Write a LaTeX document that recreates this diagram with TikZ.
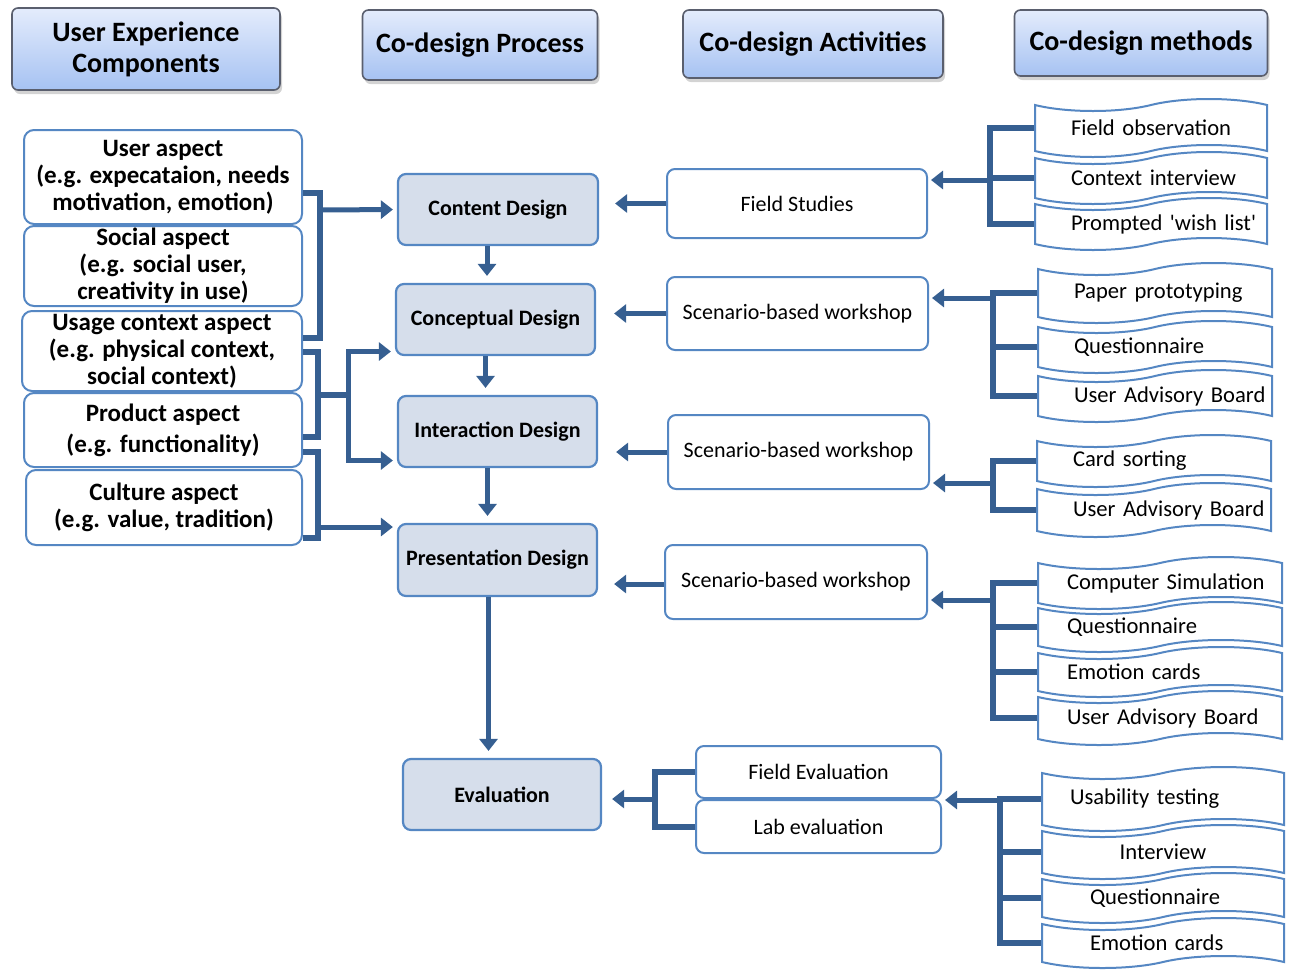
\documentclass[tikz,border=0pt]{standalone}
\usepackage{fontspec}
\setmainfont{Carlito}
\usetikzlibrary{arrows.meta}
\usetikzlibrary{shapes.symbols}
\usetikzlibrary{shadows}

\definecolor{linkblue}{RGB}{54,95,145}
\definecolor{boxblue}{RGB}{85,135,195}
\definecolor{phasefill}{RGB}{214,222,235}
\definecolor{hdrtop}{RGB}{228,236,252}
\definecolor{hdrbot}{RGB}{166,194,242}
\definecolor{hdrline}{RGB}{90,95,110}

\tikzset{
  hdr/.style={draw=hdrline, line width=0.8pt, rounded corners=3pt, top color=hdrtop, bottom color=hdrbot,
    drop shadow={shadow xshift=1pt,shadow yshift=-2pt,opacity=0.35},
    font=\fontsize{14}{15.5}\selectfont\bfseries, align=center, inner sep=0pt},
  aspectbox/.style={draw=boxblue, line width=1pt, rounded corners=5pt, fill=white,
    font=\fontsize{12.5}{13.5}\selectfont\bfseries, align=center, inner sep=0pt},
  phasebox/.style={draw=boxblue, line width=1.1pt, rounded corners=4pt, fill=phasefill,
    font=\fontsize{11}{13}\selectfont\bfseries, inner sep=0pt},
  actbox/.style={draw=boxblue, line width=1pt, rounded corners=4pt, fill=white,
    font=\fontsize{11}{13}\selectfont, inner sep=0pt},
  methbox/.style={tape, draw=boxblue, line width=1pt, fill=white, tape bend height=6pt,
    font=\fontsize{11.3}{13}\selectfont, inner ysep=0pt, inner xsep=#1, text width=100pt, align=left},
  methbox/.default=18pt,
  linkline/.style={draw=linkblue, line width=3pt},
  arr/.style={draw=linkblue, line width=2.5pt, -{Triangle[length=6pt,width=9pt]}}
}

\begin{document}
\begin{tikzpicture}[x=0.5pt,y=-0.5pt]
  \useasboundingbox (0,0) rectangle (1290,970);

  \node[hdr, minimum width=134pt, minimum height=41pt] (hux) at (146,49) {User Experience\\Components};
  \node[hdr, minimum width=117.5pt, minimum height=35pt] (hproc) at (480,45) {Co-design Process};
  \node[hdr, minimum width=130pt, minimum height=34pt] (hact) at (813,44) {Co-design Activities};
  \node[hdr, minimum width=126.5pt, minimum height=33pt] (hmeth) at (1141,43) {Co-design methods};

  \node[aspectbox, minimum width=139pt, minimum height=47pt] (user) at (163,177) {User aspect\\(e.g. expecataion, needs\\motivation, emotion)};
  \node[aspectbox, minimum width=139pt, minimum height=40pt] (social) at (163,266) {Social aspect\\(e.g. social user,\\creativity in use)};
  \node[aspectbox, minimum width=140pt, minimum height=40pt] (usage) at (162,351) {Usage context aspect\\(e.g. physical context,\\social context)};
  \node[aspectbox, minimum width=139pt, minimum height=37pt] (product) at (163,430) {Product aspect\\[2pt](e.g. functionality)};
  \node[aspectbox, minimum width=138pt, minimum height=37.5pt] (culture) at (164,507.5) {Culture aspect\\(e.g. value, tradition)};

  \node[phasebox, minimum width=100pt, minimum height=35.5pt] (content) at (498,209.5) {Content Design};
  \node[phasebox, minimum width=99.5pt, minimum height=35.5pt] (concept) at (495.5,319.5) {Conceptual Design};
  \node[phasebox, minimum width=99.5pt, minimum height=35.5pt] (interact) at (497.5,431.5) {Interaction Design};
  \node[phasebox, minimum width=99.5pt, minimum height=36pt] (present) at (497.5,560) {Presentation Design};
  \node[phasebox, minimum width=99pt, minimum height=35.5pt] (eval) at (502,794.5) {Evaluation};

  \node[actbox, minimum width=130pt, minimum height=34.5pt] (field) at (797,203.5) {Field Studies};
  \node[actbox, minimum width=130.5pt, minimum height=36.5pt] (scena) at (797.5,313.5) {Scenario-based workshop};
  \node[actbox, minimum width=130.5pt, minimum height=37pt] (scenb) at (798.5,452) {Scenario-based workshop};
  \node[actbox, minimum width=131pt, minimum height=37pt] (scenc) at (796,582) {Scenario-based workshop};
  \node[actbox, minimum width=122.5pt, minimum height=26pt] (fieldev) at (818.5,772) {Field Evaluation};
  \node[actbox, minimum width=122.5pt, minimum height=26.5pt] (labev) at (818.5,826.5) {Lab evaluation};

  \node[methbox, text width=80pt, minimum height=29pt] (fobs) at (1151,128) {\mbox{Field observation}};
  \node[methbox, text width=80pt, minimum height=26pt] (fctx) at (1151,178) {\mbox{Context interview}};
  \node[methbox, text width=80pt, minimum height=26pt] (fwish) at (1151,224) {\mbox{Prompted \textquotesingle wish list\textquotesingle}};

  \node[methbox, text width=81pt, minimum height=30pt] (paper) at (1155,293) {\mbox{Paper prototyping}};
  \node[methbox, text width=81pt, minimum height=26pt] (questa) at (1155,347) {\mbox{Questionnaire}};
  \node[methbox, text width=81pt, minimum height=26pt] (uaba) at (1155,396) {\mbox{User Advisory Board}};

  \node[methbox, text width=81pt, minimum height=26pt] (card) at (1154,461) {\mbox{Card sorting}};
  \node[methbox, text width=81pt, minimum height=27pt] (uabb) at (1154,510) {\mbox{User Advisory Board}};

  \node[methbox=14.5pt, text width=93pt, minimum height=26pt] (compsim) at (1160,583) {\mbox{Computer Simulation}};
  \node[methbox=14.5pt, text width=93pt, minimum height=25pt] (questb) at (1160,627) {\mbox{Questionnaire}};
  \node[methbox=14.5pt, text width=93pt, minimum height=25pt] (emoa) at (1160,672) {\mbox{Emotion cards}};
  \node[methbox=14.5pt, text width=93pt, minimum height=27pt] (uabc) at (1160,718) {\mbox{User Advisory Board}};

  \node[methbox=14pt, text width=93pt, minimum height=32pt] (usab) at (1163,799) {\mbox{Usability testing}};
  \node[methbox=14pt, text width=93pt, minimum height=27pt, align=center] (intv) at (1163,852) {Interview};
  \node[methbox=24pt, text width=73pt, minimum height=25pt] (questc) at (1163,898) {\mbox{Questionnaire}};
  \node[methbox=24pt, text width=73pt, minimum height=25pt] (emob) at (1163,943) {\mbox{Emotion cards}};

  \coordinate (ja) at (320,210);
  \coordinate (jb) at (318,395);
  \coordinate (jc) at (348,395);
  \coordinate (jd) at (318,527);
  \draw[linkline] ([yshift=-8pt]user.east) -| (ja) |- ([yshift=6.5pt]usage.east);
  \draw[arr, shorten >=2pt] (ja) -- (content.west);
  \draw[linkline] ([yshift=-0.5pt]usage.east) -| (jb) |- ([yshift=-3.5pt]product.east);
  \draw[linkline] (jb) -- (jc);
  \draw[arr, shorten >=2pt] (jc) |- ([yshift=-16pt]concept.west);
  \draw[arr, shorten >=2pt] (jc) |- ([yshift=-14.5pt]interact.west);
  \draw[linkline] ([yshift=-11pt]product.east) -| (jd) |- ([yshift=-15pt]culture.east);
  \draw[arr, shorten >=2pt] (jd) -- (jd -| present.west);

  \draw[arr, shorten >=3.5pt] ([xshift=-5.5pt]content.south) -- ([xshift=-5.5pt]content.south |- concept.north);
  \draw[arr, shorten >=3.5pt] ([xshift=-5pt]concept.south) -- ([xshift=-5pt]concept.south |- interact.north);
  \draw[arr, shorten >=3.5pt] ([xshift=-5pt]interact.south) -- ([xshift=-5pt]interact.south |- present.north);
  \draw[arr, shorten >=3.5pt] ([xshift=-4.5pt]present.south) -- ([xshift=-4.5pt]present.south |- eval.north);

  \draw[arr, shorten >=8pt] (field.west) -- (field.west -| content.east);
  \draw[arr, shorten >=9pt] (scena.west) -- (scena.west -| concept.east);
  \draw[arr, shorten >=9pt] (scenb.west) -- (scenb.west -| interact.east);
  \draw[arr, shorten >=8pt] ([yshift=-1pt]scenc.west) -- ([yshift=-1pt]scenc.west -| present.east);

  \coordinate (je) at (655,799);
  \draw[linkline] (fieldev.west) -| (je) |- (labev.west);
  \draw[arr, shorten >=5pt] (je) -- (je -| eval.east);

  \coordinate (j1) at (990,180);
  \draw[linkline] (fobs.west) -| (j1) |- (fwish.west);
  \draw[linkline] (fctx.west) -- (fctx.west -| j1);
  \draw[arr, shorten >=1.5pt] (j1) -- (j1 -| field.east);

  \coordinate (j2) at (993,298);
  \draw[linkline] (paper.west) -| (j2) |- (uaba.west);
  \draw[linkline] (questa.west) -- (questa.west -| j2);
  \draw[arr, shorten >=1.5pt] (j2) -- (j2 -| scena.east);

  \coordinate (j3) at (993,483);
  \draw[linkline] (card.west) -| (j3) |- (uabb.west);
  \draw[arr, shorten >=1.5pt] (j3) -- (j3 -| scenb.east);

  \coordinate (j4) at (993,600);
  \draw[linkline] (compsim.west) -| (j4) |- (uabc.west);
  \draw[linkline] (questb.west) -- (questb.west -| j4);
  \draw[linkline] (emoa.west) -- (emoa.west -| j4);
  \draw[arr, shorten >=1.5pt] (j4) -- (j4 -| scenc.east);

  \coordinate (j5) at (1000,800);
  \draw[linkline] (usab.west) -| (j5) |- (emob.west);
  \draw[linkline] (intv.west) -- (intv.west -| j5);
  \draw[linkline] (questc.west) -- (questc.west -| j5);
  \draw[arr, shorten >=1.5pt] (j5) -- (j5 -| fieldev.east);
\end{tikzpicture}
\end{document}
